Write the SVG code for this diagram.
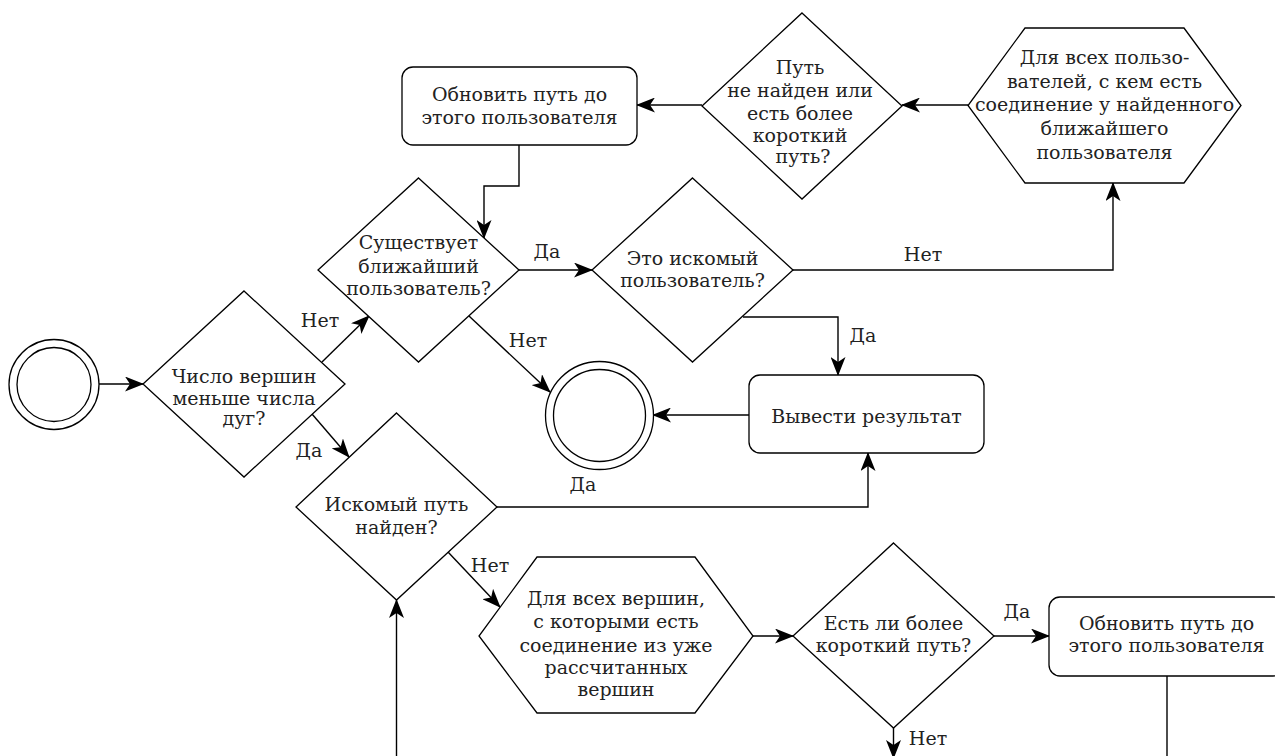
<svg xmlns="http://www.w3.org/2000/svg" width="1275" height="756" viewBox="0 0 1275 756">
<defs>
<marker id="arr" markerUnits="userSpaceOnUse" markerWidth="19" markerHeight="15" viewBox="0 0 19 15" refX="18" refY="7.5" orient="auto">
<path d="M0,0 L19,7.5 L0,15 L5,7.5 z" fill="#000"/>
</marker>
<style>
.shape{fill:#fff;stroke:#000;stroke-width:1.3}
.edge{fill:none;stroke:#000;stroke-width:1.4}
.arr{marker-end:url(#arr)}
text{font-family:"DejaVu Serif","Liberation Serif",serif;font-size:19px;fill:#222;text-anchor:middle;dominant-baseline:central}
</style>
</defs>
<rect width="1275" height="756" fill="#fff"/>
<g id="connectors">
<path class="edge arr" d="M99,384 L143,384"/>
<path class="edge arr" d="M322,362 L369,316"/>
<path class="edge arr" d="M519,270 L592,270"/>
<path class="edge arr" d="M469,316 L550,392"/>
<path class="edge arr" d="M793,270 L1113,270 L1113,183"/>
<path class="edge arr" d="M968,105 L902,105"/>
<path class="edge arr" d="M702,105 L637,105"/>
<path class="edge arr" d="M519,145 L519,186 L484,186 L484,238"/>
<path class="edge arr" d="M743,317 L838,317 L838,375"/>
<path class="edge arr" d="M749,415 L653,415"/>
<path class="edge arr" d="M312,414 L349,457"/>
<path class="edge arr" d="M497,507 L868,507 L868,453"/>
<path class="edge arr" d="M448,552 L500,607"/>
<path class="edge arr" d="M753,636 L793,636"/>
<path class="edge arr" d="M994,636 L1049,636"/>
<path class="edge arr" d="M893.5,728 L893.5,758"/>
<path class="edge" d="M1167,676 L1167,756"/>
<path class="edge arr" d="M396.5,756 L396.5,600"/>
<text x="320" y="320">Нет</text>
<text x="547" y="251">Да</text>
<text x="528" y="340">Нет</text>
<text x="923" y="254">Нет</text>
<text x="863" y="335">Да</text>
<text x="309" y="450">Да</text>
<text x="583" y="484">Да</text>
<text x="490" y="565">Нет</text>
<text x="1017" y="611">Да</text>
<text x="928" y="738">Нет</text>
</g>
<g id="n_update_top">
<rect class="shape" x="402" y="67" width="235" height="78" rx="11"/>
<text x="519.5" y="94">Обновить путь до</text>
<text x="519.5" y="117">этого пользователя</text>
</g>
<g id="n_path_check">
<polygon class="shape" points="802,13 902,106 802,199 702,106"/>
<text x="800" y="67">Путь</text>
<text x="800" y="90">не найден или</text>
<text x="800" y="113">есть более</text>
<text x="800" y="135">короткий</text>
<text x="803" y="156">путь?</text>
</g>
<g id="n_for_users">
<polygon class="shape" points="1025,28 1184,28 1241,105.5 1184,183 1025,183 968,105.5"/>
<text x="1104.5" y="57">Для всех пользо-</text>
<text x="1104.5" y="81">вателей, с кем есть</text>
<text x="1104.5" y="104">соединение у найденного</text>
<text x="1104.5" y="128">ближайшего</text>
<text x="1104.5" y="152">пользователя</text>
</g>
<g id="n_exists">
<polygon class="shape" points="418.5,178 519,270 418.5,362 318,270"/>
<text x="418.5" y="242">Существует</text>
<text x="418.5" y="266">ближайший</text>
<text x="418.5" y="288">пользователь?</text>
</g>
<g id="n_is_target">
<polygon class="shape" points="692.5,178 793,270 692.5,362 592,270"/>
<text x="692.5" y="258">Это искомый</text>
<text x="692.5" y="280">пользователь?</text>
</g>
<g id="n_start">
<circle class="shape" cx="54" cy="384.5" r="45"/>
<circle class="shape" cx="54" cy="384.5" r="37"/>
</g>
<g id="n_count">
<polygon class="shape" points="244,291 345,384 244,477 143,384"/>
<text x="244" y="376">Число вершин</text>
<text x="244" y="398">меньше числа</text>
<text x="244" y="418">дуг?</text>
</g>
<g id="n_end">
<circle class="shape" cx="599.5" cy="415.5" r="54"/>
<circle class="shape" cx="599.5" cy="415.5" r="46"/>
</g>
<g id="n_output">
<rect class="shape" x="749" y="375" width="235" height="78" rx="11"/>
<text x="866.5" y="416">Вывести результат</text>
</g>
<g id="n_found">
<polygon class="shape" points="396.5,413 497,507 396.5,600 296,507"/>
<text x="396.5" y="504">Искомый путь</text>
<text x="396.5" y="527">найден?</text>
</g>
<g id="n_for_vertices">
<polygon class="shape" points="537,557 695,557 753,636 695,713 537,713 479,636"/>
<text x="616" y="598">Для всех вершин,</text>
<text x="616" y="621">с которыми есть</text>
<text x="616" y="645">соединение из уже</text>
<text x="616" y="667">рассчитанных</text>
<text x="616" y="689">вершин</text>
</g>
<g id="n_shorter">
<polygon class="shape" points="893.5,543 994,636 893.5,728 793,636"/>
<text x="893.5" y="623">Есть ли более</text>
<text x="893.5" y="645">короткий путь?</text>
</g>
<g id="n_update_bottom">
<rect class="shape" x="1049" y="597" width="235" height="79" rx="11"/>
<text x="1166.5" y="623">Обновить путь до</text>
<text x="1166.5" y="645">этого пользователя</text>
</g>
</svg>
